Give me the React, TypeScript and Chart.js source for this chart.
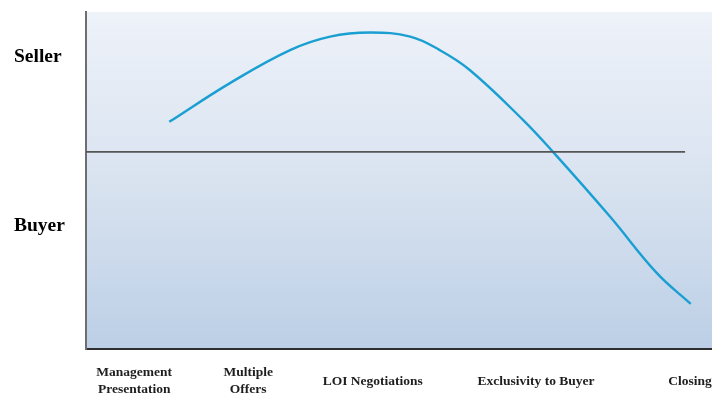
import React, { useEffect, useRef } from "react";
import { Chart, registerables } from "chart.js";

Chart.register(...registerables);

// Stage labels along the bottom and where they sit on the 0..100 timeline
const stageLabels: (string | string[])[] = [
  ["Management", "Presentation"],
  ["Multiple", "Offers"],
  "LOI Negotiations",
  "Exclusivity to Buyer",
  "Closing",
];
const stagePositions = [7.7, 25.9, 45.8, 71.9, 96.5];

// Leverage axis labels
const sideLabels = ["Seller", "Buyer"];
const sidePositions = [86.6, 36.5];

// Leverage curve (timeline x, leverage y)
const curveX = [13.3, 23.0, 32.6, 39.0, 45.4, 51.8, 56.5, 61.3, 69.8, 74.6, 83.7, 91.2, 96.6];
const curveY = [67.4, 78.9, 88.7, 92.7, 93.9, 92.7, 88.7, 82.8, 68.0, 58.5, 39.3, 22.5, 13.4];

// Neutral divider line
const dividerX = [0, 95.7];
const dividerY = [58.5, 58.5];

const bgPlugin = {
  id: "bgGradient",
  beforeDraw(chart: any) {
    const { ctx, chartArea } = chart;
    if (!chartArea) return;
    const g = ctx.createLinearGradient(0, chartArea.top, 0, chartArea.bottom);
    g.addColorStop(0, "#eef2f9");
    g.addColorStop(0.5, "#d9e3f0");
    g.addColorStop(1, "#bccfe6");
    ctx.save();
    ctx.fillStyle = g;
    ctx.fillRect(chartArea.left, chartArea.top, chartArea.right - chartArea.left, chartArea.bottom - chartArea.top);
    ctx.restore();
  },
};

export default function App() {
  const ref = useRef<HTMLCanvasElement>(null);
  useEffect(() => {
    if (!ref.current) return;
    const chart = new Chart(ref.current, {
      type: "line",
      data: {
        datasets: [
          {
            data: dividerX.map((x, i) => ({ x, y: dividerY[i] })),
            borderColor: "#555555",
            borderWidth: 1.8,
            pointRadius: 0,
            tension: 0,
          },
          {
            data: curveX.map((x, i) => ({ x, y: curveY[i] })),
            borderColor: "#1a9fd2",
            borderWidth: 2.4,
            pointRadius: 0,
            tension: 0.4,
          },
        ],
      },
      options: {
        animation: false,
        responsive: false,
        maintainAspectRatio: false,
        layout: { padding: { left: 14, top: 12, right: 0, bottom: 0 } },
        plugins: { legend: { display: false }, tooltip: { enabled: false } },
        scales: {
          x: {
            type: "linear",
            min: 0,
            max: 100,
            grid: { display: false, drawTicks: false },
            border: { display: true, color: "#2e2e2e", width: 2 },
            afterBuildTicks: (scale: any) => {
              scale.ticks = stagePositions.map((v) => ({ value: v }));
            },
            afterFit: (scale: any) => {
              scale.height = 49;
              scale.paddingLeft = 0;
              scale.paddingRight = 0;
            },
            ticks: {
              autoSkip: false,
              maxRotation: 0,
              minRotation: 0,
              padding: 24,
              crossAlign: "center",
              color: "#1e1e1e",
              font: { family: "'Liberation Serif', serif", size: 13.5, weight: "bold", lineHeight: 1.2 },
              callback: (_v: any, i: number) => stageLabels[i],
            },
          },
          y: {
            type: "linear",
            min: 0,
            max: 100,
            grid: { display: false, drawTicks: false },
            border: { display: true, color: "#6e6e6e", width: 2 },
            afterBuildTicks: (scale: any) => {
              scale.ticks = sidePositions.map((v) => ({ value: v }));
            },
            afterFit: (scale: any) => {
              scale.width = 72;
            },
            ticks: {
              autoSkip: false,
              crossAlign: "far",
              padding: 0,
              color: "#000000",
              font: { family: "'Liberation Serif', serif", size: 19.5, weight: "bold" },
              callback: (_v: any, i: number) => sideLabels[i],
            },
          },
        },
      },
      plugins: [bgPlugin],
    } as any);
    return () => chart.destroy();
  }, []);
  return (
    <div style={{ position: "fixed", left: 0, top: 0, width: 712, height: 398, background: "#ffffff" }}>
      <canvas ref={ref} width={712} height={398} style={{ width: 712, height: 398, display: "block" }} />
    </div>
  );
}
